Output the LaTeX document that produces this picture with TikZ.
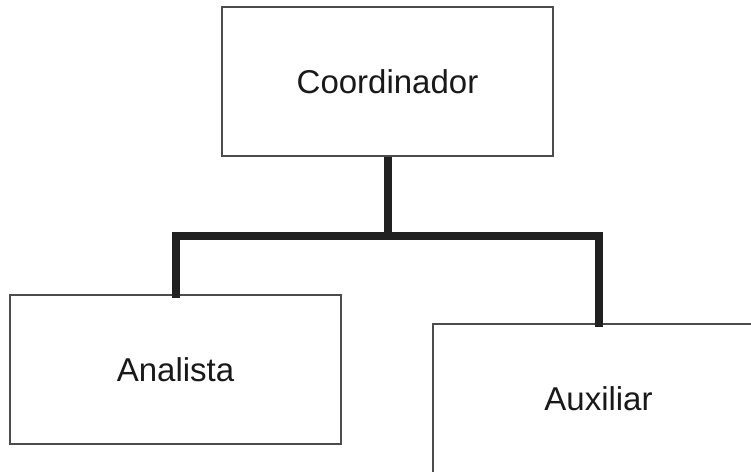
\documentclass[tikz,border=0pt]{standalone}
\usepackage{fontspec}
\setmainfont{Liberation Sans}
\begin{document}
\begin{tikzpicture}[x=1pt,y=-1pt,
  box/.style={draw=black!70,line width=1.2pt,minimum width=331pt,minimum height=149pt,inner sep=0pt,fill=white,font=\fontsize{33}{33}\selectfont,text=black!90},
  conn/.style={draw=black!87,line width=8pt}]
\fill[white] (0,0) rectangle (751,471);
\useasboundingbox (0,0) rectangle (751,471);
\clip (0,0) rectangle (751,471);
\node[box] (coord) at (387.5,81.5) {Coordinador};
\node[box] (anal) at (175.5,369.5) {Analista};
\node[box] (aux) at (598.5,398.5) {Auxiliar};
\coordinate (mid) at (387.5,236);
\draw[conn] (coord.south) -- (mid);
\draw[conn,line cap=rect] (anal.north) |- (mid) -| (aux.north);
\end{tikzpicture}
\end{document}
